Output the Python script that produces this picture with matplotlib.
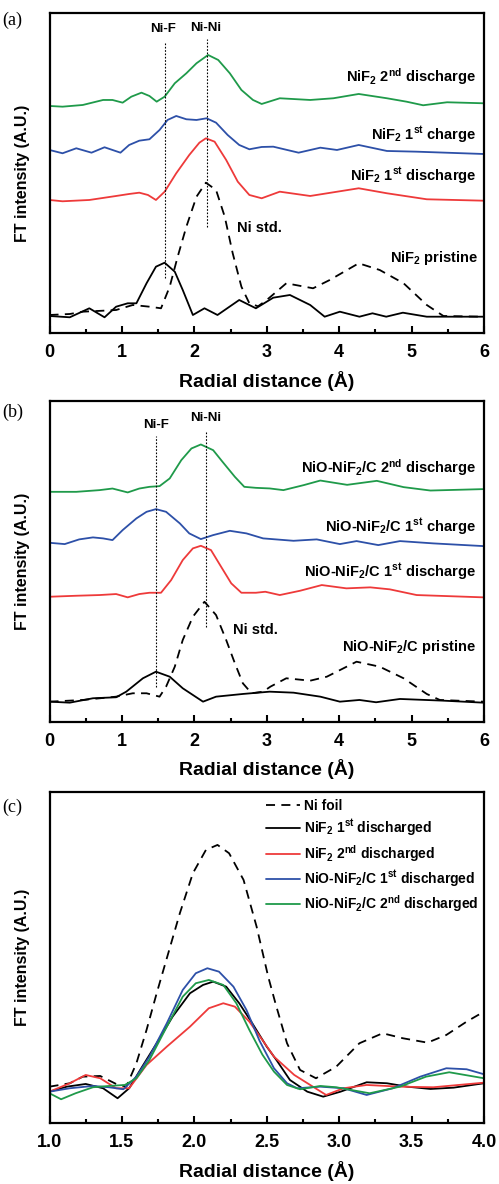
import matplotlib
matplotlib.use('Agg')
import matplotlib.pyplot as plt
from matplotlib.ticker import MultipleLocator, FormatStrFormatter

plt.rcParams['font.family'] = ['Liberation Sans', 'DejaVu Sans']
plt.rcParams['font.weight'] = 'bold'
plt.rcParams['mathtext.fontset'] = 'custom'
plt.rcParams['mathtext.rm'] = 'Liberation Sans:bold'
plt.rcParams['mathtext.bf'] = 'Liberation Sans:bold'
plt.rcParams['mathtext.it'] = 'Liberation Sans:bold'
plt.rcParams['mathtext.default'] = 'bf'

GREEN = '#1f9a4a'
BLUE = '#2d50a8'
RED = '#ee3a3a'

# ---- panel (a): NiF2 ----
a_green_x = [0, 0.18, 0.46, 0.74, 0.87, 1.01, 1.13, 1.27, 1.38, 1.48, 1.59, 1.73, 1.89, 2.03, 2.19, 2.33, 2.49, 2.65, 2.81, 2.93, 3.18, 3.60, 3.92, 4.27, 4.66, 4.93, 5.16, 5.49, 5.99]
a_green_y = [227.3, 226.6, 228.3, 233.3, 233.3, 230.6, 236.6, 240.6, 237.3, 231.6, 236.6, 250, 260, 270, 278.3, 273.3, 260, 243.3, 233.3, 229.3, 235, 233.3, 235, 239.3, 235, 231.6, 228, 231, 230]

a_blue_x = [0, 0.18, 0.37, 0.58, 0.76, 0.98, 1.10, 1.24, 1.38, 1.52, 1.63, 1.75, 1.89, 2.03, 2.17, 2.30, 2.46, 2.62, 2.76, 2.93, 3.09, 3.44, 3.74, 3.97, 4.27, 4.66, 5.07, 5.99]
a_blue_y = [183.3, 180, 185, 180.6, 186, 180.6, 188.3, 192.6, 194, 203.3, 213.3, 217.3, 214, 213.3, 215, 210.6, 198.3, 188.3, 184, 186.3, 186.6, 180.6, 185.6, 183.3, 188.3, 182.3, 181.6, 179.3]

a_red_x = [0, 0.18, 0.55, 0.92, 1.10, 1.24, 1.36, 1.47, 1.59, 1.75, 1.93, 2.07, 2.16, 2.28, 2.44, 2.60, 2.76, 2.93, 3.18, 3.60, 4.27, 4.66, 5.21, 5.99]
a_red_y = [133.3, 132, 133.3, 137.3, 139.3, 140.6, 138.3, 133.3, 141.6, 160, 178.3, 190.6, 195, 191.6, 173.3, 151.6, 138.3, 135, 141.6, 137.3, 145, 140, 134, 132.6]

a_std_x = [0, 0.28, 0.46, 0.74, 0.92, 1.15, 1.38, 1.54, 1.66, 1.77, 1.89, 2.03, 2.16, 2.30, 2.42, 2.53, 2.65, 2.76, 2.88, 3.00, 3.27, 3.64, 3.87, 4.27, 4.56, 4.89, 5.21, 5.44, 5.99]
a_std_y = [18.3, 19.3, 21.6, 22.6, 23.3, 28.3, 26.6, 25, 46.6, 76.6, 106.6, 136.6, 150.6, 143.3, 116.6, 80, 46.6, 30, 27, 33.3, 50, 45, 53.3, 70, 63.3, 50, 28.3, 17.3, 16.6]

a_pri_x = [0, 0.28, 0.55, 0.76, 0.92, 1.08, 1.20, 1.34, 1.47, 1.59, 1.73, 1.84, 1.98, 2.14, 2.32, 2.62, 2.85, 3.09, 3.32, 3.60, 3.80, 4.01, 4.28, 4.46, 4.65, 4.88, 5.21, 5.99]
a_pri_y = [17.3, 16, 25, 16, 26.6, 30, 30, 50, 66.6, 70.6, 61.6, 43.3, 18.3, 25, 18.3, 33.3, 25, 35.6, 38.3, 28.3, 16.6, 21.6, 16.6, 20, 16.6, 20.6, 16.6, 16.6]

# ---- panel (b): NiO-NiF2/C ----
b_green_x = [0, 0.37, 0.69, 0.87, 1.08, 1.24, 1.38, 1.52, 1.66, 1.82, 1.96, 2.09, 2.26, 2.39, 2.56, 2.69, 2.85, 3.04, 3.23, 3.51, 3.74, 4.11, 4.52, 4.89, 5.26, 5.98]
b_green_y = [230, 230, 231.7, 233.3, 229.4, 233.3, 235, 235.7, 243.4, 261.7, 273.4, 277.4, 271.7, 260, 245, 235, 234, 233.4, 231.7, 236.7, 241.3, 237, 241, 234.7, 231.3, 232.7]

b_blue_x = [0, 0.21, 0.41, 0.60, 0.74, 0.87, 1.01, 1.20, 1.34, 1.47, 1.61, 1.80, 1.93, 2.09, 2.26, 2.49, 2.72, 2.95, 3.37, 3.69, 4.01, 4.24, 4.54, 4.84, 5.30, 5.99]
b_blue_y = [179, 177.7, 182.4, 184.4, 183.4, 181.7, 191.7, 203.4, 210, 212.7, 210, 198.4, 188.4, 182.7, 186.7, 191, 188.4, 183.4, 181, 182.4, 177.7, 180.7, 176.7, 180.7, 178.4, 175.7]

b_red_x = [0, 0.37, 0.69, 0.92, 1.08, 1.24, 1.38, 1.54, 1.68, 1.84, 1.98, 2.09, 2.23, 2.37, 2.51, 2.65, 2.85, 2.98, 3.18, 3.46, 3.76, 4.10, 4.43, 4.70, 5.07, 5.99]
b_red_y = [125, 126, 126.7, 127.7, 124.4, 127.7, 129, 129, 141.7, 161.7, 173.4, 176, 171.7, 155, 138.4, 129, 129, 130, 126.7, 131, 136.7, 133.4, 134.4, 132.4, 126.7, 124.4]

b_std_x = [0, 0.46, 0.92, 1.15, 1.34, 1.52, 1.61, 1.73, 1.84, 1.98, 2.14, 2.30, 2.44, 2.56, 2.67, 2.79, 2.95, 3.05, 3.27, 3.60, 3.83, 4.24, 4.56, 4.89, 5.21, 5.39, 5.99]
b_std_y = [20, 21.7, 25, 28.4, 28.4, 25, 35, 55, 81.7, 105, 120, 106.7, 81.7, 58.4, 38.4, 28.4, 30, 35, 43.4, 41, 45, 60, 55, 43.4, 27.7, 21.7, 20]

b_pri_x = [0, 0.28, 0.60, 0.92, 1.06, 1.29, 1.47, 1.66, 1.84, 2.12, 2.30, 2.67, 3.04, 3.37, 3.74, 4.01, 4.28, 4.51, 4.84, 5.44, 5.99]
b_pri_y = [20, 19, 23.4, 24.4, 30, 43.4, 50, 45, 33.4, 20, 25, 27.7, 30, 29, 25, 20, 21.7, 19.4, 22.7, 21, 19]

# ---- panel (c): first shell comparison ----
c_foil_x = [1.0, 1.14, 1.23, 1.35, 1.46, 1.53, 1.60, 1.67, 1.74, 1.82, 1.90, 1.99, 2.08, 2.16, 2.24, 2.34, 2.43, 2.51, 2.56, 2.64, 2.73, 2.84, 2.98, 3.14, 3.30, 3.44, 3.61, 3.74, 3.88, 4.0]
c_foil_y = [36, 39.4, 46, 46.7, 38.7, 36, 59.4, 92.7, 129.4, 169.4, 209.4, 249.4, 272.7, 277.7, 269.4, 242.7, 196, 146, 119.4, 79.4, 52.7, 44.4, 56, 79.4, 89.4, 84.4, 80, 87.7, 101, 111]

c_nif1_x = [1.0, 1.12, 1.25, 1.37, 1.47, 1.55, 1.64, 1.74, 1.85, 1.97, 2.06, 2.13, 2.22, 2.31, 2.40, 2.50, 2.57, 2.66, 2.78, 2.89, 3.01, 3.19, 3.33, 3.47, 3.63, 3.79, 4.0]
c_nif1_y = [31, 36, 38.7, 34.4, 24.4, 34.4, 56, 79.4, 106, 129.4, 137.7, 141, 136, 119.4, 99.4, 76, 62, 42.7, 31, 26, 31, 40.4, 39.4, 36, 33.7, 35, 39.4]

c_nif2_x = [1.0, 1.14, 1.25, 1.35, 1.46, 1.55, 1.67, 1.81, 1.97, 2.10, 2.20, 2.28, 2.38, 2.47, 2.55, 2.69, 2.80, 2.91, 3.03, 3.19, 3.42, 3.65, 4.0]
c_nif2_y = [31, 39.4, 47.7, 44.4, 34.4, 34.4, 57.7, 76, 96, 114.4, 119.4, 116, 101, 82.7, 66, 47.7, 37.7, 27.7, 34.4, 37.7, 36, 35.4, 40]

c_nio1_x = [1.0, 1.14, 1.30, 1.41, 1.51, 1.60, 1.69, 1.81, 1.92, 2.01, 2.09, 2.17, 2.27, 2.36, 2.45, 2.55, 2.64, 2.71, 2.87, 3.03, 3.19, 3.37, 3.56, 3.74, 3.88, 4.0]
c_nio1_y = [31, 34.4, 36.7, 35.4, 33.4, 46, 66, 99.4, 132.7, 149.4, 154.4, 151, 136, 112.7, 82, 54.4, 39.4, 34.4, 36, 34.4, 27.7, 34.4, 46, 54.4, 53.4, 48.4]

c_nio2_x = [1.0, 1.08, 1.18, 1.30, 1.41, 1.52, 1.60, 1.69, 1.81, 1.92, 2.01, 2.10, 2.20, 2.29, 2.38, 2.47, 2.55, 2.64, 2.73, 2.87, 2.98, 3.21, 3.42, 3.60, 3.76, 4.0]
c_nio2_y = [29.4, 23.4, 29.4, 35.4, 36.7, 37.7, 44.4, 62.7, 96, 126, 139.4, 142.7, 137.7, 119.4, 92.7, 68, 51, 37.7, 33.4, 36.7, 35.4, 29.4, 36, 46, 50.4, 44.4]

a_labels = [r'NiF$_2$ 2$^{nd}$ discharge', r'NiF$_2$ 1$^{st}$ charge', r'NiF$_2$ 1$^{st}$ discharge', 'Ni std.', r'NiF$_2$ pristine']
b_labels = [r'NiO-NiF$_2$/C 2$^{nd}$ discharge', r'NiO-NiF$_2$/C 1$^{st}$ charge', r'NiO-NiF$_2$/C 1$^{st}$ discharge', 'Ni std.', r'NiO-NiF$_2$/C pristine']
c_labels = ['Ni foil', r'NiF$_2$ 1$^{st}$ discharged', r'NiF$_2$ 2$^{nd}$ discharged', r'NiO-NiF$_2$/C 1$^{st}$ discharged', r'NiO-NiF$_2$/C 2$^{nd}$ discharged']

LW = 1.3
DASH = (0, (5, 3.5))
DOT = (0, (1.5, 1.5))
TXT = 10.5

fig = plt.figure(figsize=(4.99, 11.84), dpi=100)


def style_axis(ax, major, minor):
    ax.xaxis.set_major_locator(MultipleLocator(major))
    ax.xaxis.set_minor_locator(MultipleLocator(minor))
    ax.tick_params(axis='x', which='both', direction='in', top=False, labelsize=13, width=1.5, pad=8)
    ax.tick_params(axis='x', which='major', length=5)
    ax.tick_params(axis='x', which='minor', length=3)
    ax.set_yticks([])
    for s in ax.spines.values():
        s.set_linewidth(1.6)
    for lab in ax.get_xticklabels():
        lab.set_fontweight('bold')
    ax.set_xlabel('Radial distance (\u00c5)', fontsize=14, fontweight='bold', labelpad=7)
    ax.set_ylabel('FT intensity (A.U.)', fontsize=11.5, fontweight='bold')
    ax.yaxis.set_label_coords(-0.045, 0.5)


def draw(ax, x, y, **kw):
    ax.plot(x, y, lw=LW, solid_joinstyle='round', solid_capstyle='round', **kw)


# (a)
ax1 = fig.add_axes([0.0992, 0.7185, 0.8707, 0.2703])
draw(ax1, a_green_x, a_green_y, color=GREEN)
draw(ax1, a_blue_x, a_blue_y, color=BLUE)
draw(ax1, a_red_x, a_red_y, color=RED)
draw(ax1, a_std_x, a_std_y, color='black', ls=DASH)
draw(ax1, a_pri_x, a_pri_y, color='black')
ax1.vlines([1.59], 55, 291, colors='black', lw=0.8, linestyles=DOT)
ax1.vlines([2.17], 106, 294, colors='black', lw=0.8, linestyles=DOT)
ax1.text(1.57, 304, 'Ni-F', fontsize=9.5, ha='center', va='center')
ax1.text(2.16, 305, 'Ni-Ni', fontsize=9.5, ha='center', va='center')
ax1.text(5.89, 257, a_labels[0], fontsize=TXT, ha='right', va='center')
ax1.text(5.89, 199, a_labels[1], fontsize=TXT, ha='right', va='center')
ax1.text(5.89, 158, a_labels[2], fontsize=TXT, ha='right', va='center')
ax1.text(2.59, 105, a_labels[3], fontsize=TXT, ha='left', va='center')
ax1.text(5.92, 75, a_labels[4], fontsize=TXT, ha='right', va='center')
ax1.set_xlim(0, 6)
ax1.set_ylim(0, 320)
style_axis(ax1, 1, 0.5)
fig.text(0.005, 0.983, '(a)', fontsize=13, family='Liberation Serif', fontweight='normal', va='center')

# (b)
ax2 = fig.add_axes([0.0992, 0.3905, 0.8707, 0.2709])
draw(ax2, b_green_x, b_green_y, color=GREEN)
draw(ax2, b_blue_x, b_blue_y, color=BLUE)
draw(ax2, b_red_x, b_red_y, color=RED)
draw(ax2, b_std_x, b_std_y, color='black', ls=DASH)
draw(ax2, b_pri_x, b_pri_y, color='black')
ax2.vlines([1.475], 35, 286, colors='black', lw=0.8, linestyles=DOT)
ax2.vlines([2.16], 95, 290, colors='black', lw=0.8, linestyles=DOT)
ax2.text(1.47, 297, 'Ni-F', fontsize=9.5, ha='center', va='center')
ax2.text(2.15, 304, 'Ni-Ni', fontsize=9.5, ha='center', va='center')
ax2.text(5.89, 254, b_labels[0], fontsize=TXT, ha='right', va='center')
ax2.text(5.89, 195, b_labels[1], fontsize=TXT, ha='right', va='center')
ax2.text(5.89, 150, b_labels[2], fontsize=TXT, ha='right', va='center')
ax2.text(2.53, 92, b_labels[3], fontsize=TXT, ha='left', va='center')
ax2.text(5.89, 75, b_labels[4], fontsize=TXT, ha='right', va='center')
ax2.set_xlim(0, 6)
ax2.set_ylim(0, 321)
style_axis(ax2, 1, 0.5)
fig.text(0.005, 0.652, '(b)', fontsize=13, family='Liberation Serif', fontweight='normal', va='center')

# (c)
ax3 = fig.add_axes([0.0992, 0.0518, 0.8707, 0.2796])
draw(ax3, c_foil_x, c_foil_y, color='black', ls=DASH, label=c_labels[0])
draw(ax3, c_nif1_x, c_nif1_y, color='black', label=c_labels[1])
draw(ax3, c_nif2_x, c_nif2_y, color=RED, label=c_labels[2])
draw(ax3, c_nio1_x, c_nio1_y, color=BLUE, label=c_labels[3])
draw(ax3, c_nio2_x, c_nio2_y, color=GREEN, label=c_labels[4])
ax3.set_xlim(1.0, 4.0)
ax3.set_ylim(0, 331)
style_axis(ax3, 0.5, 0.25)
ax3.xaxis.set_major_formatter(FormatStrFormatter('%.1f'))
leg = ax3.legend(loc='upper left', bbox_to_anchor=(0.47, 1.015), frameon=False,
                 fontsize=10, handlelength=2.4, handletextpad=0.3, labelspacing=0.33)
fig.text(0.005, 0.318, '(c)', fontsize=13, family='Liberation Serif', fontweight='normal', va='center')

fig.savefig('out.png', dpi=100)
